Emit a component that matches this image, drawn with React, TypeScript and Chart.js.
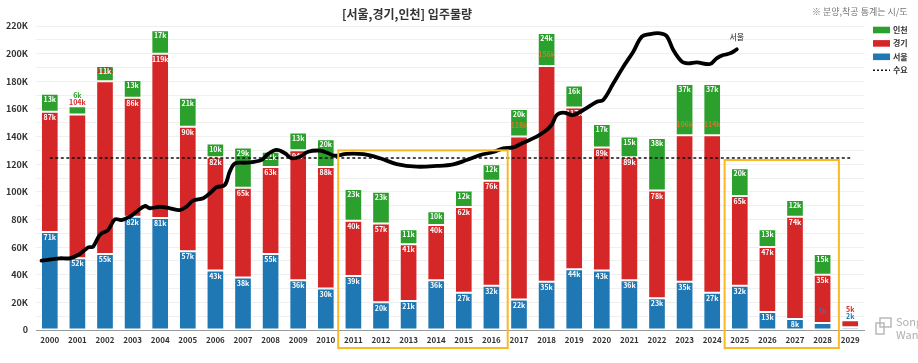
import React, { useEffect, useRef } from 'react';
import { Chart, registerables } from 'chart.js';
Chart.register(...registerables);

const FONT = '"Noto Sans CJK KR", "Noto Sans", sans-serif';

const years = ['2000', '2001', '2002', '2003', '2004', '2005', '2006', '2007', '2008', '2009',
  '2010', '2011', '2012', '2013', '2014', '2015', '2016', '2017', '2018', '2019',
  '2020', '2021', '2022', '2023', '2024', '2025', '2026', '2027', '2028', '2029'];

// 입주물량 (천 세대)
const seoul = [71, 52, 55, 82, 81, 57, 43, 38, 55, 36, 30, 39, 20, 21, 36, 27, 32, 22, 35, 44, 43, 36, 23, 35, 27, 32, 13, 8, 5, 2];
const gyeonggi = [87, 104, 125, 86, 119, 90, 82, 65, 63, 94, 88, 40, 57, 41, 40, 62, 76, 118, 156, 117, 89, 89, 78, 106, 114, 65, 47, 74, 35, 5];
const incheon = [13, 6, 11, 13, 17, 21, 10, 29, 11, 13, 20, 23, 23, 11, 10, 12, 12, 20, 24, 16, 17, 15, 38, 37, 37, 20, 13, 12, 15, 0];

// 수요 (천 세대)
const demand = 124.5;
const demandFrom = 2000;
const demandTo = 2029;

// 서울 가격 흐름 (시점, 값)
const seoulLineX = [1999.70, 2000.36, 2000.72, 2001.09, 2001.39, 2001.57, 2001.81, 2002.11, 2002.36, 2002.60, 2002.90, 2003.14, 2003.44, 2003.62, 2003.99, 2004.35, 2004.71, 2004.95, 2005.19, 2005.56, 2005.86, 2006.04, 2006.34, 2006.52, 2006.71, 2007.13, 2007.67, 2007.91, 2008.22, 2008.52, 2008.76, 2009.06, 2009.36, 2009.79, 2010.09, 2010.33, 2010.75, 2011.36, 2011.96, 2012.57, 2013.29, 2014.02, 2014.62, 2015.10, 2015.59, 2016.07, 2016.43, 2016.79, 2017.15, 2017.64, 2018.00, 2018.18, 2018.37, 2018.60, 2018.97, 2019.33, 2019.82, 2020.05, 2020.42, 2020.78, 2021.14, 2021.45, 2021.75, 2022.11, 2022.35, 2022.59, 2022.90, 2023.13, 2023.44, 2023.92, 2024.16, 2024.40, 2024.65, 2024.89];
const seoulLineY = [50.2, 51.9, 51.9, 55.0, 59.8, 60.3, 68.8, 72.4, 80.1, 79.6, 82.0, 85.6, 89.7, 88.1, 89.2, 88.1, 86.8, 89.2, 93.6, 95.3, 100.1, 103.3, 104.9, 114.6, 120.6, 121.1, 123.0, 127.4, 130.3, 127.9, 124.3, 125.4, 129.0, 129.8, 127.9, 126.1, 127.5, 127.2, 124.3, 120.1, 118.2, 118.7, 119.9, 123.0, 126.6, 128.8, 131.5, 132.2, 135.5, 139.9, 144.7, 148.4, 155.6, 157.3, 155.6, 159.2, 165.2, 166.4, 178.5, 190.5, 201.4, 212.3, 214.2, 214.7, 212.8, 202.6, 194.2, 193.0, 193.7, 192.5, 196.6, 199.0, 200.2, 203.1];

const yTicks = [0, 20, 40, 60, 80, 100, 120, 140, 160, 180, 200, 220];

// 강조 구간
const highlightFrom = [2011, 2025];
const highlightTo = [2016, 2028];
const highlightTop = [130, 123];

const BLUE = '#1f77b4';
const RED = '#d62728';
const GREEN = '#2ca02c';
const ORANGE = '#cf7a2c';
const BOX = '#f8b924';

const firstYear = Number(years[0]);
const toIndex = (yr: number) => yr - firstYear;

const aboveLabels: Record<string, number[]> = { '2001': [3, 4], '2029': [2, 3] };
const shiftedLabels: Record<string, string> = {
  '2002:3': RED, '2017:3': ORANGE, '2018:3': ORANGE, '2023:3': ORANGE, '2024:3': ORANGE, '2028:2': '#3f6fb0',
};

const overlayPlugin = {
  id: 'overlay',
  beforeDatasetDraw(chart: any, args: any) {
    if (args.index !== 1) return;
    const ctx = chart.ctx;
    ctx.save();
    ctx.font = `bold 7px ${FONT}`;
    ctx.textAlign = 'center';
    ctx.textBaseline = 'middle';
    const n = years.length;
    for (let j = 0; j < n; j++) {
      let top = Infinity;
      for (let di = 2; di <= 4; di++) {
        const el = chart.getDatasetMeta(di).data[j];
        const v = chart.data.datasets[di].data[j];
        if (v > 0) top = Math.min(top, el.y);
      }
      const above = aboveLabels[years[j]] || [];
      for (let di = 2; di <= 4; di++) {
        const ds = chart.data.datasets[di];
        const v = ds.data[j];
        if (!v) continue;
        const el = chart.getDatasetMeta(di).data[j];
        const txt = `${v}k`;
        const ai = above.indexOf(di);
        if (ai >= 0) {
          ctx.fillStyle = ds.backgroundColor;
          ctx.fillText(txt, el.x, top - 4 - 6.8 * ai);
          continue;
        }
        const sh = shiftedLabels[`${years[j]}:${di}`];
        if (sh) {
          ctx.fillStyle = sh;
          ctx.fillText(txt, el.x, el.y - 11.3);
          continue;
        }
        ctx.fillStyle = '#ffffff';
        ctx.fillText(txt, el.x, el.y + 5.5);
      }
    }
    ctx.restore();
  },
  afterDatasetsDraw(chart: any) {
    const ctx = chart.ctx;
    const x = chart.scales.x;
    const y = chart.scales.y;
    ctx.save();
    ctx.strokeStyle = BOX;
    ctx.lineWidth = 2;
    for (let i = 0; i < highlightFrom.length; i++) {
      const l = x.getPixelForValue(toIndex(highlightFrom[i]) - 0.55);
      const r = x.getPixelForValue(toIndex(highlightTo[i]) + 0.59);
      const t = y.getPixelForValue(highlightTop[i]);
      const b = y.getPixelForValue(0) + 18;
      ctx.strokeRect(l, t, r - l, b - t);
    }
    const meta = chart.getDatasetMeta(0);
    const last = meta.data[meta.data.length - 1];
    ctx.fillStyle = '#222';
    ctx.font = `8px ${FONT}`;
    ctx.textAlign = 'center';
    ctx.textBaseline = 'middle';
    ctx.fillText('서울', last.x, last.y - 12);
    ctx.restore();
  },
  afterDraw(chart: any) {
    const ctx = chart.ctx;
    ctx.save();
    ctx.fillStyle = '#333';
    ctx.font = `bold 12px ${FONT}`;
    ctx.textAlign = 'center';
    ctx.textBaseline = 'middle';
    ctx.fillText('[서울,경기,인천] 입주물량', 407, 14);
    ctx.fillStyle = '#777';
    ctx.font = `9px ${FONT}`;
    ctx.textAlign = 'left';
    ctx.fillText('※ 분양,착공 통계는 시/도', 812, 12);
    const ds = chart.data.datasets;
    const items = [ds[4], ds[3], ds[2], ds[1]];
    items.forEach((d: any, i: number) => {
      const cy = 30 + i * 13.4;
      if (d.type === 'line') {
        ctx.strokeStyle = '#111';
        ctx.lineWidth = 1.6;
        ctx.setLineDash([2, 2]);
        ctx.beginPath();
        ctx.moveTo(873, cy);
        ctx.lineTo(890, cy);
        ctx.stroke();
        ctx.setLineDash([]);
      } else {
        ctx.fillStyle = d.backgroundColor;
        ctx.fillRect(873, cy - 3.3, 17, 6.6);
      }
      ctx.fillStyle = '#333';
      ctx.font = `bold 8px ${FONT}`;
      ctx.textAlign = 'left';
      ctx.textBaseline = 'middle';
      ctx.fillText(d.label, 893, cy);
    });
    ctx.strokeStyle = '#b5b5b5';
    ctx.lineWidth = 1.4;
    ctx.strokeRect(876, 323, 8, 11);
    ctx.strokeRect(880, 318, 11, 9);
    ctx.fillStyle = '#b0b0b0';
    ctx.font = `11px ${FONT}`;
    ctx.textAlign = 'left';
    ctx.fillText('Song', 896, 322);
    ctx.fillText('Wang', 896, 335);
    ctx.restore();
  },
};

export default function App() {
  const ref = useRef<HTMLCanvasElement>(null);
  useEffect(() => {
    document.body.style.margin = '0';
    Chart.defaults.font.family = FONT;
    const barBorder = 'rgba(255,255,255,0.45)';
    const barCommon = {
      type: 'bar', borderColor: barBorder, borderWidth: 1, borderSkipped: false, order: 1, stack: 'bars',
      grouped: false, categoryPercentage: 1, barPercentage: 0.64,
    };
    const chart = new Chart(ref.current as HTMLCanvasElement, {
      type: 'bar',
      data: {
        labels: years,
        datasets: [
          {
            type: 'line', label: '서울 가격', stack: 'price', order: 0, parsing: false,
            data: seoulLineX.map((yr, i) => ({ x: toIndex(yr), y: seoulLineY[i] })) as any,
            borderColor: '#000', borderWidth: 3.8, pointRadius: 0, tension: 0.35,
            borderCapStyle: 'round', borderJoinStyle: 'round', fill: false,
          } as any,
          {
            type: 'line', label: '수요', stack: 'demand', order: 0, parsing: false,
            data: [{ x: toIndex(demandFrom), y: demand }, { x: toIndex(demandTo), y: demand }] as any,
            borderColor: '#111', borderWidth: 1.6, borderDash: [3, 2.5], pointRadius: 0, fill: false,
          } as any,
          { ...barCommon, label: '서울', data: seoul, backgroundColor: BLUE } as any,
          { ...barCommon, label: '경기', data: gyeonggi, backgroundColor: RED } as any,
          { ...barCommon, label: '인천', data: incheon, backgroundColor: GREEN } as any,
        ],
      },
      options: {
        responsive: false,
        animation: false,
        devicePixelRatio: 1,
        layout: { padding: { left: 0, right: 54, top: 26, bottom: 0 } },
        plugins: { legend: { display: false }, title: { display: false }, tooltip: { enabled: false } },
        scales: {
          x: {
            stacked: true,
            grid: { display: false, drawTicks: false },
            border: { display: true, color: '#9a9a9a', width: 1 },
            ticks: { color: '#333', font: { size: 8, weight: 'bold' }, padding: 5, maxRotation: 0, autoSkip: false },
            afterFit: (s: any) => { s.height = 33; },
          },
          y: {
            stacked: true, min: 0, max: 220,
            grid: { color: '#efefef', drawTicks: false },
            border: { display: false },
            ticks: {
              stepSize: 10, padding: 8, color: '#333', font: { size: 9, weight: 'bold' },
              callback: (v: any) => (yTicks.includes(v) ? (v === 0 ? '0' : `${v}K`) : ''),
            },
            afterFit: (s: any) => { s.width = 36; },
          },
        },
      } as any,
      plugins: [overlayPlugin],
    });
    return () => chart.destroy();
  }, []);
  return (
    <div style={{ width: 918, height: 363 }}>
      <canvas ref={ref} width={918} height={363} style={{ display: 'block' }} />
    </div>
  );
}
